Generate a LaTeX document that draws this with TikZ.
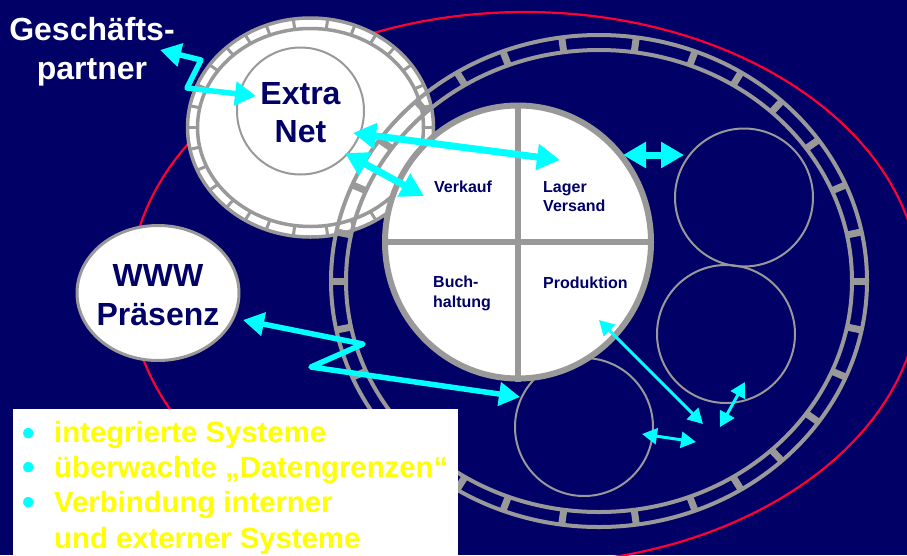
\documentclass[tikz,border=0pt]{standalone}
\usepackage{fontspec}
\setmainfont{Liberation Sans}
\usetikzlibrary{arrows.meta,shapes.geometric}
\definecolor{navy}{HTML}{000066}
\definecolor{ringgray}{HTML}{999999}
\definecolor{redline}{HTML}{FF0033}
\definecolor{cyanline}{HTML}{00FFFF}
\definecolor{yellowtxt}{HTML}{FFFF00}
\tikzset{
  big/.style={font=\bfseries\fontsize{32}{36}\selectfont,text=navy,inner sep=0pt,anchor=base},
  partner/.style={font=\bfseries\fontsize{32}{36}\selectfont,text=white,inner sep=0pt,anchor=base},
  small/.style={font=\bfseries\fontsize{16}{19}\selectfont,text=navy,inner sep=0pt,anchor=base west},
  bullet/.style={font=\bfseries\fontsize{36}{38}\selectfont,text=cyanline,inner sep=0pt,anchor=base west},
  item/.style={font=\bfseries\fontsize{29.3}{32}\selectfont,text=yellowtxt,inner sep=0pt,anchor=base west},
  thin circle/.style={circle,draw=ringgray,line width=2pt,inner sep=0pt,minimum size=138pt},
  arrow big/.style={draw=cyanline,line width=7pt,line join=round,
    {Triangle[length=23pt,width=25pt]}-{Triangle[length=23pt,width=25pt]}},
  arrow mid/.style={draw=cyanline,line width=5.5pt,line join=round,
    {Triangle[length=21pt,width=23pt]}-{Triangle[length=21pt,width=23pt]}},
  arrow small/.style={draw=cyanline,line width=3pt,
    {Triangle[length=15pt,width=16pt]}-{Triangle[length=15pt,width=16pt]}},
}
\begin{document}
\begin{tikzpicture}[x=1pt,y=-1pt]
\useasboundingbox (0,0) rectangle (907,555);
\clip (0,0) rectangle (907,555);
\fill[navy] (0,0) rectangle (907,555);
% red ellipse
\draw[redline,line width=2.2pt] (525,288) ellipse [x radius=395,y radius=276];
% extranet disc with tick ring
\node[ellipse,fill=white,draw=ringgray,line width=3.5pt,inner sep=0pt,minimum width=246pt,minimum height=219pt] (extdisc) at (310.5,127.5) {};
\draw[ringgray,line width=3.5pt] (310.5,127.5) ellipse [x radius=113,y radius=99];
\foreach \q in {1,-1}\foreach \r in {1,-1}\foreach \t in {0,11.5,23,35,47,58,69,82}{
  \draw[ringgray,line width=3pt]
    ({310.5+\q*113*cos(\t)},{127.5+\r*99*sin(\t)}) -- ({310.5+\q*123*cos(\t)},{127.5+\r*109*sin(\t)});
}
\node[circle,draw=ringgray,line width=2pt,fill=white,inner sep=0pt,minimum size=127pt] (extra) at (300.5,111) {};
% big tick ring
\draw[ringgray,line width=4pt] (599,281) ellipse [x radius=268,y radius=246];
\draw[ringgray,line width=4pt] (599,281) ellipse [x radius=253,y radius=231];
\foreach \q in {1,-1}\foreach \r in {1,-1}\foreach \t in {0,11.5,23,35,47,58,69,82}{
  \draw[ringgray,line width=7pt]
    ({599+\q*253*cos(\t)},{281+\r*231*sin(\t)}) -- ({599+\q*268*cos(\t)},{281+\r*246*sin(\t)});
}
% small circles
\node[thin circle] (c1) at (744,197.5) {};
\node[thin circle] (c2) at (726,334) {};
\node[thin circle] (c3) at (584,427) {};
% central disc
\node[ellipse,fill=white,draw=ringgray,line width=6pt,inner sep=0pt,minimum width=266pt,minimum height=273pt] (core) at (518,242) {};
\draw[ringgray,line width=5.5pt] (core.north) -- (core.south);
\draw[ringgray,line width=5.5pt] (core.west) -- (core.east);
% www
\node[ellipse,fill=white,draw=ringgray,line width=3pt,inner sep=0pt,minimum width=162pt,minimum height=135pt] (www) at (158,293) {};
% white text box
\node[fill=white,inner sep=0pt,minimum width=445pt,minimum height=152pt,anchor=north west] (box) at (13,409) {};
% labels
\node[partner] (gp1) at (92,40) {Geschäfts-};
\node[partner] (gp2) at (92,79) {partner};
\node[big] (ex1) at (300.5,104) {Extra};
\node[big] (ex2) at (300.5,142) {Net};
\node[big] (ww1) at (158,286) {WWW};
\node[big] (ww2) at (158,325) {Präsenz};
\node[small] (l1) at (434,192) {Verkauf};
\node[small] (l2) at (543,192) {Lager};
\node[small] (l3) at (543,211) {Versand};
\node[small] (l4) at (433,287) {Buch-};
\node[small] (l5) at (433,307) {haltung};
\node[small] (l6) at (543,288) {Produktion};
\foreach \n/\yy in {a/445,b/479.5,c/514.5}{\node[bullet] (bul\n) at (22,\yy) {•};}
\node[item] (i1) at (54,442) {integrierte Systeme};
\node[item] (i2) at (54,477) {überwachte „Datengrenzen“};
\node[item] (i3) at (54,512.5) {Verbindung interner};
\node[item] (i4) at (54,548) {und externer Systeme};
% connector ends
\coordinate (a1s) at (160,50); \coordinate (a1b) at (201,60); \coordinate (a1c) at (187,88); \coordinate (a1e) at (256,96);
\coordinate (a2s) at (353,133); \coordinate (a2e) at (560,160);
\coordinate (a3s) at (345,153); \coordinate (a3e) at (424,196);
\coordinate (a4s) at (623,155); \coordinate (a4e) at (684,155);
\coordinate (a5s) at (243,320); \coordinate (a5b) at (363,344); \coordinate (a5c) at (311,367); \coordinate (a5e) at (520,397);
\coordinate (a6s) at (599,320); \coordinate (a6e) at (703,424);
\coordinate (a7s) at (720,427); \coordinate (a7e) at (745,382);
\coordinate (a8s) at (642,434); \coordinate (a8e) at (696,442);
% connectors
\draw[arrow mid] (a1s) -- (a1b) -- (a1c) -- (a1e);
\draw[arrow big] (a2s) -- (a2e);
\draw[arrow big] (a3s) -- (a3e);
\draw[arrow big] (a4s) -- (a4e);
\draw[arrow mid] (a5s) -- (a5b) -- (a5c) -- (a5e);
\draw[arrow small] (a6s) -- (a6e);
\draw[arrow small] (a7s) -- (a7e);
\draw[arrow small] (a8s) -- (a8e);
\end{tikzpicture}
\end{document}
